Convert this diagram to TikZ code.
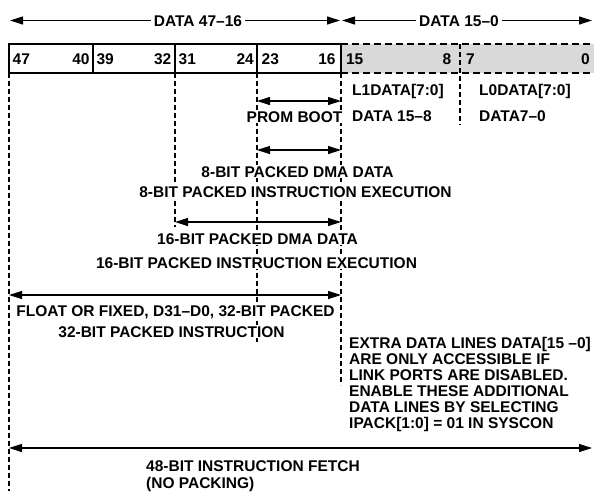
\documentclass[tikz,border=0pt]{standalone}
\usepackage{fontspec}
\setmainfont{Liberation Sans}
\usetikzlibrary{arrows.meta}
\tikzset{
  txt/.style={font=\bfseries\fontsize{15.5}{16}\selectfont, inner sep=0pt},
  mask/.style={txt, fill=white, inner xsep=1.5pt, inner ysep=1pt},
  vdash/.style={line width=1.2pt, dash pattern=on 5pt off 3pt},
  bdash/.style={line width=1.2pt, dash pattern=on 7pt off 4pt},
  boxline/.style={line width=1.2pt},
  dim/.style={line width=1.1pt, {Triangle[length=13pt,width=8pt]}-{Triangle[length=13pt,width=8pt]}},
}
\begin{document}
\begin{tikzpicture}[x=1pt,y=-1pt]
\useasboundingbox (0,0) rectangle (594,491);
% register box
\fill[black!15] (341,44) rectangle (594,73);
\draw[bdash] (341,44) -- (594,44);
\draw[bdash] (341,73) -- (594,73);
\draw[boxline] (9,44) rectangle (341,73);
\foreach \x in {93,175,257} \draw[boxline] (\x,44) -- (\x,73);
% coordinates on the dashed guide lines
\coordinate (g0t) at (9,73);    \coordinate (g0b) at (9,491);
\coordinate (g1t) at (175,73);  \coordinate (g1b) at (175,227);
\coordinate (g2t) at (257,73);  \coordinate (g2b) at (257,343);
\coordinate (g3t) at (341,73);  \coordinate (g3b) at (341,385);
\coordinate (g4t) at (460,44);  \coordinate (g4b) at (460,125);
\draw[vdash] (g0t) -- (g0b);
\draw[vdash] (g1t) -- (g1b);
\draw[vdash] (g2t) -- (g2b);
\draw[vdash] (g3t) -- (g3b);
\draw[vdash] (g4t) -- (g4b);
% top dimension arrows
\coordinate (tA) at (10,20.5);  \coordinate (tB) at (340,20.5);
\coordinate (tC) at (342,20.5); \coordinate (tD) at (592,20.5);
\draw[dim] (tA) -- (tB);
\draw[dim] (tC) -- (tD);
\node[mask, inner xsep=3pt, anchor=base] (d4716) at (198,26) {DATA 47–16};
\node[mask, inner xsep=3pt, anchor=base] (d150) at (459,26) {DATA 15–0};
% bit numbers
\node[txt, anchor=base west] (b47) at (12.5,64) {47};
\node[txt, anchor=base east] (b40) at (89.8,64) {40};
\node[txt, anchor=base west] (b39) at (96.3,64) {39};
\node[txt, anchor=base east] (b32) at (171.5,64) {32};
\node[txt, anchor=base west] (b31) at (178.5,64) {31};
\node[txt, anchor=base east] (b24) at (254,64) {24};
\node[txt, anchor=base west] (b23) at (261.5,64) {23};
\node[txt, anchor=base east] (b16) at (335.8,64) {16};
\node[txt, anchor=base west] (b15) at (345.8,64) {15};
\node[txt, anchor=base east] (b8) at (451.5,64) {8};
\node[txt, anchor=base west] (b7) at (466,64) {7};
\node[txt, anchor=base east] (b0) at (590,64) {0};
% link data labels
\node[txt, anchor=base west] (l1) at (352,95) {L1DATA[7:0]};
\node[txt, anchor=base west] (l1b) at (352,121) {DATA 15–8};
\node[txt, anchor=base west] (l0) at (479,95) {L0DATA[7:0]};
\node[txt, anchor=base west] (l0b) at (479,121) {DATA7–0};
% packing arrows
\coordinate (pA) at (257,101); \coordinate (pB) at (341,101);
\coordinate (eA) at (257,150); \coordinate (eB) at (341,150);
\coordinate (sA) at (175,222); \coordinate (sB) at (341,222);
\coordinate (fA) at (9,295);   \coordinate (fB) at (341,295);
\coordinate (iA) at (9,448);   \coordinate (iB) at (592,448);
\draw[dim] (pA) -- (pB);
\draw[dim] (eA) -- (eB);
\draw[dim] (sA) -- (sB);
\draw[dim] (fA) -- (fB);
\draw[dim] (iA) -- (iB);
% labels
\node[mask, anchor=base] (prom) at (294.5,122) {PROM BOOT};
\node[mask, anchor=base] (e1) at (297.5,177) {8-BIT PACKED DMA DATA};
\node[mask, anchor=base] (e2) at (295.5,197) {8-BIT PACKED INSTRUCTION EXECUTION};
\node[mask, anchor=base] (s1) at (257.5,244) {16-BIT PACKED DMA DATA};
\node[mask, anchor=base] (s2) at (256.5,268) {16-BIT PACKED INSTRUCTION EXECUTION};
\node[mask, anchor=base] (f1) at (175.5,316) {FLOAT OR FIXED, D31–D0, 32-BIT PACKED};
\node[mask, anchor=base] (f2) at (171.5,337) {32-BIT PACKED INSTRUCTION};
\node[txt, anchor=base west] (i1) at (146,471) {48-BIT INSTRUCTION FETCH};
\node[txt, anchor=base west] (i2) at (146,488) {(NO PACKING)};
% note
\node[txt, anchor=base west] (n1) at (349,348) {EXTRA DATA LINES DATA[15 –0]};
\node[txt, anchor=base west] (n2) at (349,364) {ARE ONLY ACCESSIBLE IF};
\node[txt, anchor=base west] (n3) at (349,380) {LINK PORTS ARE DISABLED.};
\node[txt, anchor=base west] (n4) at (349,396) {ENABLE THESE ADDITIONAL};
\node[txt, anchor=base west] (n5) at (349,412) {DATA LINES BY SELECTING};
\node[txt, anchor=base west] (n6) at (349,428) {IPACK[1:0] = 01 IN SYSCON};
\end{tikzpicture}
\end{document}
